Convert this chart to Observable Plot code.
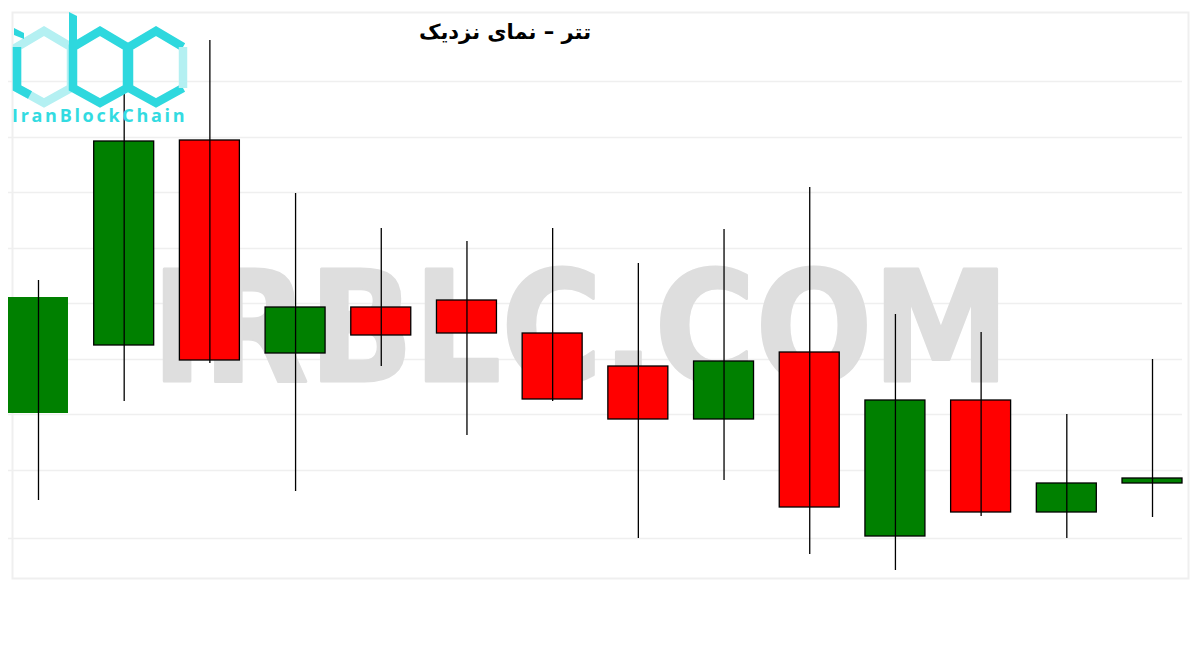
<!DOCTYPE html>
<html>
<head>
<meta charset="utf-8">
<script src="https://cdn.jsdelivr.net/npm/d3@7"></script>
<script src="https://cdn.jsdelivr.net/npm/@observablehq/plot@0.6"></script>
<style>
  html, body { margin: 0; padding: 0; background: #fff; }
  #wrap { position: relative; width: 1200px; height: 650px; overflow: hidden; }
  #title { position: absolute; left: 0; top: 20px; width: 1010px; text-align: center;
           font-family: "DejaVu Sans", sans-serif; font-weight: bold; font-size: 21px; color: #000; }
  #logo { position: absolute; left: 0; top: 0; }
  #chart { position: absolute; left: 0; top: 0; }
</style>
</head>
<body>
<div id="wrap">
  <div id="chart"></div>
  <svg id="logo" width="200" height="130" xmlns="http://www.w3.org/2000/svg">
    <g fill="none" stroke-width="8.5" stroke-linejoin="miter">
      <polygon points="44,31 71,47 71,88 44,103 17,88 17,47" stroke="#b4f0f2"/>
      <polyline points="17,47 17,88 30,95" stroke="#2ed8de"/>
      <polygon points="100,31 127,47 127,88 100,103 73,88 73,47" stroke="#2ed8de"/>
      <polyline points="183,88 156,103 129,88 129,47 156,31 183,47" stroke="#2ed8de"/>
      <polyline points="183,47 183,88" stroke="#b4f0f2"/>
    </g>
    <polygon points="69,12 77,16 77,62 69,62" fill="#2ed8de"/>
    <polygon points="14,28 24,33 24,39 14,35" fill="#2ed8de"/>
    <text x="12" y="122" font-family="Open Sans, sans-serif" font-weight="bold" font-size="18" letter-spacing="2.7" fill="#33dbe1">IranBlockChain</text>
  </svg>
  <div id="title" dir="rtl">تتر – نمای نزدیک</div>
</div>
<script>
// Candle data (price units; no axis shown)
const periods = ["1","2","3","4","5","6","7","8","9","10","11","12","13","14"];
const opens  = [28185, 28525, 29550, 28485, 28715, 28750, 28585, 28420, 28155, 28490, 27570, 28250, 27690, 27835];
const closes = [28765, 29545, 28450, 28715, 28575, 28585, 28255, 28155, 28445, 27715, 28250, 27690, 27835, 27860];
const highs  = [28850, 29785, 30050, 29285, 29110, 29045, 29110, 28935, 29105, 29315, 28680, 28590, 28180, 28455];
const lows   = [27750, 28245, 28435, 27795, 28420, 28075, 28245, 27560, 27850, 27480, 27400, 27670, 27560, 27665];
const gridTicks = [29845, 29565, 29290, 29010, 28735, 28455, 28180, 27900, 27560];
const watermark = ["IRBLC.COM"];

const data = periods.map((p, i) => ({
  period: p, open: opens[i], close: closes[i], high: highs[i], low: lows[i],
  up: closes[i] >= opens[i]
}));

const chart = Plot.plot({
  width: 1200,
  height: 650,
  marginLeft: 8,
  marginRight: 18,
  marginTop: 0,
  marginBottom: 0,
  style: { background: "transparent", overflow: "visible" },
  x: { type: "band", domain: periods, paddingInner: 0.3, paddingOuter: 0, align: 0.5, round: false, axis: null },
  y: { domain: [27000, 30250], axis: null },
  marks: [
    Plot.ruleY(gridTicks, { stroke: "#efefef", strokeWidth: 1.5 }),
    Plot.frame({ stroke: "#efefef", strokeWidth: 2, insetLeft: 4, insetRight: -6, insetTop: 12, insetBottom: 72 }),
    Plot.text(watermark, {
      text: d => d, frameAnchor: "middle", dx: -15, dy: 6,
      fontSize: 154, fontWeight: "bold", fontFamily: "DejaVu Sans, sans-serif",
      fill: "#dedede", stroke: "#dedede", strokeWidth: 3, lineAnchor: "middle"
    }),
    Plot.barY(data, {
      filter: (d, i) => i === 0,
      x: "period", y1: "open", y2: "close",
      fill: d => d.up ? "#008000" : "#ff0000"
    }),
    Plot.barY(data, {
      filter: (d, i) => i > 0,
      x: "period", y1: "open", y2: "close",
      fill: d => d.up ? "#008000" : "#ff0000",
      stroke: "#000", strokeWidth: 1.3
    }),
    Plot.ruleX(data, { x: "period", y1: "low", y2: "high", stroke: "#000", strokeWidth: 1.3 })
  ]
});
document.getElementById("chart").appendChild(chart);
// stretch watermark to its span in the picture
d3.select(chart).selectAll("text").filter(function() { return this.textContent === "IRBLC.COM"; })
  .attr("textLength", 858).attr("lengthAdjust", "spacingAndGlyphs");
</script>
</body>
</html>
